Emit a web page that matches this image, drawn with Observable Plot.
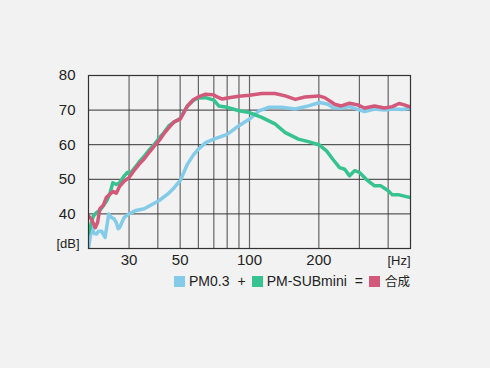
<!DOCTYPE html>
<html><head><meta charset="utf-8">
<script src="https://cdn.jsdelivr.net/npm/d3@7"></script>
<script src="https://cdn.jsdelivr.net/npm/@observablehq/plot@0.6"></script>
<style>
html,body{margin:0;padding:0;background:#f2f2f2;width:490px;height:368px;overflow:hidden;font-family:"Liberation Sans",Arial,sans-serif;}
#chart{position:absolute;left:0;top:0;}
#legend{position:absolute;top:272px;right:80px;display:flex;align-items:center;font-size:14px;color:#222;line-height:18px;white-space:nowrap;}
.sw{display:inline-block;width:11px;height:11px;}
</style></head><body>
<div id="chart"></div>
<div id="legend"></div>
<script>
// Series names and colours
const seriesNames = ["PM0.3", "PM-SUBmini", "合成"];
const seriesColors = ["#83cbe8", "#36c390", "#d4587a"];

// PM0.3 (blue)
const freqPM03 = [20, 20.3, 20.7, 21.2, 21.7, 22.1, 22.8, 23.6, 24.5, 25.1, 25.8, 26.4, 26.9, 27.3, 28.6, 30, 32.2, 34.9, 37.9, 40.4, 44.1, 47, 50, 53.8, 57, 60, 64.5, 70, 80, 90, 100, 110, 121, 138, 158, 180, 202, 219, 230, 250, 272, 293, 316, 349, 385, 425, 460, 500];
const dbPM03   = [30, 33, 36, 34.3, 34.2, 35, 35, 33.2, 40, 39, 38.6, 37.5, 35.7, 36.1, 39, 40, 41, 41.5, 42.8, 43.8, 45.7, 47.5, 49.6, 54.4, 57, 58.7, 60.6, 61.6, 63, 65.5, 67.4, 69.8, 70.8, 70.8, 70.3, 71.2, 72.2, 71.7, 70.7, 70.6, 71, 70.3, 69.6, 70.3, 70, 70.3, 70.2, 70.6];

// PM-SUBmini (green)
const freqSub = [20, 20.5, 21, 21.7, 22.4, 23, 24, 24.8, 25.5, 26.4, 27.3, 28.6, 29.5, 30, 31.5, 33.2, 35, 36.7, 38.5, 40.4, 42.5, 44.7, 47, 50, 53.8, 57, 60, 64.5, 70, 73.6, 80, 90, 100, 113, 129, 143, 163, 180, 200, 216, 230, 246, 259, 272, 286, 300, 321, 349, 372, 400, 417, 446, 500];
const dbSub   = [34.3, 37, 39.4, 40.4, 41, 42, 43.8, 46, 49, 48.5, 49, 51, 52, 51.5, 53, 55, 56.8, 58.5, 60, 61.8, 63.5, 65.5, 66.5, 67.6, 71.2, 72.8, 73.5, 73.6, 72.9, 71.2, 70.8, 69.8, 69.3, 67.9, 66, 63.5, 61.6, 60.9, 60, 58.2, 55.8, 53.4, 52.9, 51, 52.5, 52, 50, 48.1, 48.1, 46.7, 45.5, 45.5, 44.7];

// 合成 (red)
const freqSum = [20, 20.6, 21.4, 21.9, 22.4, 23.2, 23.9, 24.6, 25.5, 26.4, 27.3, 28.6, 30, 31.5, 33.2, 35, 36.7, 38.5, 40.4, 42.5, 44.5, 47, 50, 53.8, 57, 60, 64.5, 70, 72.4, 76.1, 80, 90, 100, 113, 129, 143, 158, 174, 200, 212, 225, 234, 250, 272, 295, 316, 349, 385, 417, 446, 470, 500];
const dbSum   = [39.4, 38.5, 36, 37.5, 41.5, 42.5, 44.7, 45.5, 46.5, 46, 48, 49.5, 50.5, 52.5, 54.4, 56, 57.8, 59.5, 61.1, 63.2, 64.8, 66.6, 67.4, 71.2, 73, 73.8, 74.6, 74.4, 73.8, 73.2, 73.5, 74, 74.3, 74.8, 74.8, 74.1, 73.1, 73.8, 74.1, 73.6, 72.5, 71.7, 71.2, 72, 71.5, 70.6, 71.2, 70.6, 71, 71.9, 71.5, 70.9];

// Axis ticks and grid
const xTicks = [30, 50, 100, 200];
const xGrid = [30, 40, 50, 60, 70, 80, 90, 100, 200, 300, 400];
const yTicks = [40, 50, 60, 70, 80];
const yGrid = [40, 50, 60, 70];

const rows = [];
[[freqPM03, dbPM03], [freqSub, dbSub], [freqSum, dbSum]].forEach(([fs, ds], i) => {
  fs.forEach((f, j) => rows.push({series: seriesNames[i], f, db: ds[j]}));
});

const chart = Plot.plot({
  width: 490,
  height: 270,
  marginLeft: 88,
  marginRight: 80,
  marginTop: 75,
  marginBottom: 22,
  style: {background: "#f2f2f2", fontSize: "15px", fontFamily: "'Liberation Sans', Arial, sans-serif", color: "#222"},
  x: {type: "log", domain: [20, 500]},
  y: {domain: [30, 80]},
  color: {domain: seriesNames, range: seriesColors},
  marks: [
    Plot.ruleX(xGrid, {stroke: "#666", strokeWidth: 1.2}),
    Plot.ruleY(yGrid, {stroke: "#333", strokeWidth: 1}),
    Plot.line(rows, {x: "f", y: "db", z: "series", stroke: "series", strokeWidth: 3.5, strokeLinejoin: "round", strokeLinecap: "round", clip: true}),
    Plot.frame({stroke: "#333", strokeWidth: 1.2}),
    Plot.axisX({ticks: xTicks, tickFormat: d => String(d), tickSize: 0, tickPadding: 6, label: null, fontSize: 15}),
    Plot.axisY({ticks: yTicks, tickFormat: d => String(d), tickSize: 0, tickPadding: 13, label: null, fontSize: 15}),
    Plot.text(["[dB]"], {x: [20], y: [30], text: d => d, textAnchor: "end", dx: -9, dy: -5, fontSize: 13}),
    Plot.text(["[Hz]"], {x: [500], y: [30], text: d => d, textAnchor: "end", dy: 12, fontSize: 13})
  ]
});
document.getElementById("chart").appendChild(chart);

// Legend
const legend = document.getElementById("legend");
const ops = ["+", "=", ""];
seriesNames.forEach((name, i) => {
  const sw = document.createElement("span");
  sw.className = "sw";
  sw.style.background = seriesColors[i];
  legend.appendChild(sw);
  const t = document.createElement("span");
  t.textContent = name;
  t.style.marginLeft = "4px";
  if (name === "合成") { t.style.fontFamily = "'Noto Sans CJK JP', sans-serif"; t.style.fontSize = "12.5px"; t.style.marginLeft = "5px"; }
  legend.appendChild(t);
  if (ops[i]) {
    const o = document.createElement("span");
    o.textContent = ops[i];
    o.style.margin = "0 6px 0 8px";
    legend.appendChild(o);
  }
});
</script></body></html>
